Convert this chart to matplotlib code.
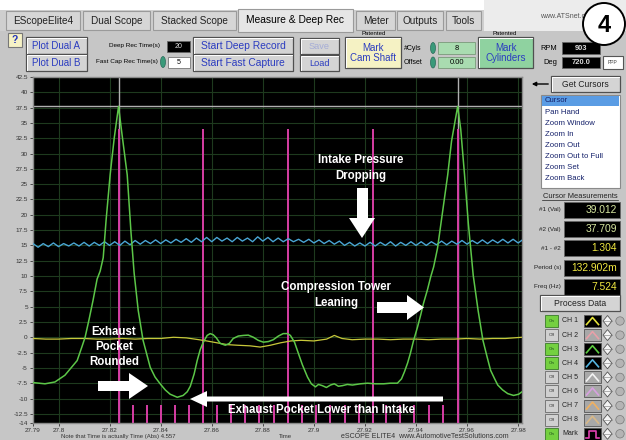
import matplotlib
matplotlib.use("Agg")
import matplotlib.pyplot as plt
from matplotlib.patches import Rectangle, Circle, Polygon, Ellipse

plt.rcParams['font.family'] = ['Liberation Sans', 'DejaVu Sans']

# ---------------- data ----------------
x_ticks = [27.79, 27.8, 27.82, 27.84, 27.86, 27.88, 27.9, 27.92, 27.94, 27.96, 27.98]
x_tick_labels = ['27.79', '27.8', '27.82', '27.84', '27.86', '27.88', '27.9', '27.92', '27.94', '27.96', '27.98']
y_ticks = [42.5, 40, 37.5, 35, 32.5, 30, 27.5, 25, 22.5, 20, 17.5, 15, 12.5, 10, 7.5, 5, 2.5, 0,
           -2.5, -5, -7.5, -10, -12.5, -14]
y_tick_labels = ['42.5', '40', '37.5', '35', '32.5', '30', '27.5', '25', '22.5', '20', '17.5', '15', '12.5',
                 '10', '7.5', '5', '2.5', '0', '-2.5', '-5', '-7.5', '-10', '-12.5', '-14']
x_range = [27.79, 27.9815]
y_range = [-14, 42.5]

# CH3 (green) cylinder pressure trace
green_t = [27.7900, 27.7947, 27.7986, 27.8025, 27.8053, 27.8073, 27.8092, 27.8104, 27.8120, 27.8135,
           27.8151, 27.8163, 27.8175, 27.8186, 27.8202, 27.8218, 27.8235, 27.8249, 27.8269, 27.8284,
           27.8296, 27.8312, 27.8331, 27.8359, 27.8378, 27.8398, 27.8418, 27.8437, 27.8465, 27.8488,
           27.8504, 27.8516, 27.8531, 27.8543, 27.8555, 27.8567, 27.8582, 27.8594, 27.8606, 27.8618,
           27.8633, 27.8653, 27.8669, 27.8684, 27.8704, 27.8724, 27.8743, 27.8763, 27.8782, 27.8802,
           27.8822, 27.8841, 27.8861, 27.8880, 27.8896, 27.8908, 27.8924, 27.8939, 27.8955, 27.8975,
           27.8990, 27.9006, 27.9018, 27.9033, 27.9049, 27.9065, 27.9080, 27.9096, 27.9112, 27.9131,
           27.9151, 27.9182, 27.9210, 27.9241, 27.9273, 27.9300, 27.9327, 27.9343, 27.9355, 27.9367,
           27.9378, 27.9390, 27.9406, 27.9418, 27.9429, 27.9445, 27.9457, 27.9469, 27.9484, 27.9504,
           27.9524, 27.9539, 27.9563, 27.9575, 27.9590, 27.9605, 27.9624, 27.9643, 27.9662, 27.9677,
           27.9692, 27.9708, 27.9720, 27.9739, 27.9759, 27.9782, 27.9802, 27.9815]
green_v = [-7.4, -7.6, -7.3, -6.2, -4.8, -3.8, -1.5, 0.0, 3.0, 6.0,
           9.5, 10.8, 13.0, 19.0, 26.5, 32.5, 37.7, 33.0, 26.5, 17.0,
           10.5, 4.4, -0.5, -4.9, -6.5, -7.6, -8.6, -9.3, -9.8, -9.5,
           -8.9, -8.0, -6.0, -3.8, -2.0, -0.8, 0.3, 0.6, 0.4, -0.1,
           -1.0, -1.3, -1.0, -0.2, 0.2, 0.3, 0.35, 0.0, -0.5, -0.8,
           -0.7, -0.4, 0.2, 0.6, 0.6, 0.3, -0.8, -2.6, -4.5, -6.5,
           -7.6, -8.1, -7.7, -7.9, -8.2, -7.8, -7.6, -8.0, -7.9, -7.7,
           -7.8, -7.6, -7.5, -7.6, -7.6, -7.5, -7.5, -6.8, -5.6, -4.2,
           -2.6, -0.6, 1.7, 3.6, 5.5, 7.8, 9.8, 11.5, 14.5, 20.5,
           26.5, 32.0, 37.7, 34.0, 26.5, 18.5, 10.1, 4.4, -0.5, -3.0,
           -5.4, -6.8, -7.8, -8.6, -9.2, -9.5, -9.3, -8.9]

# CH4 (blue) intake pressure trace
blue_t = [27.790, 27.792, 27.794, 27.796, 27.798, 27.800, 27.802, 27.804, 27.806, 27.808,
          27.810, 27.812, 27.814, 27.816, 27.818, 27.820, 27.822, 27.824, 27.826, 27.828,
          27.830, 27.832, 27.834, 27.836, 27.838, 27.840, 27.842, 27.844, 27.846, 27.848,
          27.850, 27.852, 27.854, 27.856, 27.858, 27.860, 27.862, 27.864, 27.866, 27.868,
          27.870, 27.872, 27.874, 27.876, 27.878, 27.880, 27.882, 27.884, 27.886, 27.888,
          27.890, 27.892, 27.894, 27.896, 27.898, 27.900, 27.902, 27.904, 27.906, 27.908,
          27.910, 27.912, 27.914, 27.916, 27.918, 27.920, 27.922, 27.924, 27.926, 27.928,
          27.930, 27.932, 27.934, 27.936, 27.938, 27.940, 27.942, 27.944, 27.946, 27.948,
          27.950, 27.952, 27.954, 27.956, 27.958, 27.960, 27.962, 27.964, 27.966, 27.968,
          27.970, 27.972, 27.974, 27.976, 27.978, 27.980, 27.982]
blue_v = [15.3, 14.7, 15.3, 14.8, 15.4, 14.8, 15.3, 14.9, 15.4, 14.9,
          15.5, 14.9, 15.5, 15.0, 15.6, 15.0, 15.6, 15.0, 15.7, 15.1,
          15.8, 15.2, 15.8, 15.3, 15.9, 15.3, 15.9, 15.4, 16.0, 15.5,
          16.1, 15.5, 16.2, 15.6, 16.3, 15.6, 16.3, 15.7, 16.2, 15.6,
          16.3, 15.7, 16.2, 15.6, 16.4, 15.7, 16.3, 15.6, 16.2, 15.6,
          16.1, 15.6, 16.0, 15.5, 16.0, 15.4, 15.9, 15.3, 15.8, 15.2,
          15.7, 15.0, 15.5, 14.9, 15.4, 14.9, 15.5, 14.9, 15.5, 15.0,
          15.6, 14.9, 15.5, 15.0, 15.6, 15.0, 15.6, 15.0, 15.6, 15.1,
          15.7, 15.1, 15.7, 15.2, 15.8, 15.2, 15.8, 15.3, 15.9, 15.3,
          15.9, 15.4, 16.0, 15.4, 16.0, 15.4, 16.0]

# CH1 (yellow) exhaust pressure trace
yellow_t = [27.790, 27.795, 27.800, 27.805, 27.810, 27.815, 27.820, 27.825, 27.830, 27.835,
            27.840, 27.845, 27.850, 27.855, 27.858, 27.862, 27.866, 27.870, 27.875, 27.879,
            27.883, 27.887, 27.891, 27.895, 27.900, 27.905, 27.908, 27.911, 27.915, 27.920,
            27.925, 27.930, 27.935, 27.940, 27.945, 27.950, 27.955, 27.960, 27.965, 27.970,
            27.975, 27.9815]
yellow_v = [-0.2, -0.3, -0.3, -0.2, -0.2, -0.3, -0.3, -0.2, -0.3, -0.2,
            -0.2, 0.0, -0.1, -0.4, -0.6, -0.9, -1.2, -1.3, -1.4, -1.6,
            -1.3, -0.9, -0.6, -0.5, -0.6, -0.3, 0.3, -0.2, -0.4, -0.3,
            -0.3, -0.4, -0.3, -0.3, -0.4, -0.3, -0.3, -0.2, -0.3, -0.2,
            -0.2, 0.0]

# Mark channel (magenta): cylinder marks (tall) and sub-divisions (short)
mark_major_t = [27.8235, 27.8567, 27.8899, 27.9232, 27.9564]
mark_minor_t = [27.8292, 27.8347, 27.8402, 27.8457, 27.8512,
                27.8622, 27.8676, 27.8731, 27.8786, 27.8845,
                27.8955, 27.9010, 27.9065, 27.9120, 27.9175,
                27.9284, 27.9339, 27.9394, 27.9449, 27.9504]
mark_major_top = 34.0
mark_minor_top = -11.0

# cursors
cursor_t = [27.8235, 27.9564]
cursor_level = 37.709

readout_labels = ['#1 (Val)', '#2 (Val)', '#1 - #2', 'Period (s)', 'Freq (Hz)']
readout_values = ['39.012', '37.709', '1.304', '132.902m', '7.524']
tool_items = ['Cursor', 'Pan Hand', 'Zoom Window', 'Zoom In', 'Zoom Out', 'Zoom Out to Full', 'Zoom Set', 'Zoom Back']
channel_names = ['CH 1', 'CH 2', 'CH 3', 'CH 4', 'CH 5', 'CH 6', 'CH 7', 'CH 8', 'Mark']
channel_on = [True, False, True, True, False, False, False, False, True]
channel_colors = ['#e4e23a', '#e8a0a8', '#5ccc40', '#54b4e0', '#f2f2f2', '#d8a0e0', '#f0b060', '#d8b888', '#e040b0']
tabs = ['EScopeElite4', 'Dual Scope', 'Stacked Scope', 'Measure & Deep Rec', 'Meter', 'Outputs', 'Tools']

# ---------------- figure ----------------
W, H = 626, 440
fig = plt.figure(figsize=(W / 100, H / 100), dpi=100)
fig.patch.set_facecolor('#c6c6c6')

ui = fig.add_axes([0, 0, 1, 1], zorder=0)
ui.set_xlim(0, W)
ui.set_ylim(H, 0)
ui.axis('off')


def rect(x0, y0, x1, y1, fc, ec='none', lw=0.8, z=2):
    ui.add_patch(Rectangle((x0, y0), x1 - x0, y1 - y0, facecolor=fc, edgecolor=ec, linewidth=lw, zorder=z))


def txt(x, y, s, size=7, color='black', ha='center', weight='normal', z=5, **kw):
    ui.text(x, y, s, fontsize=size, color=color, ha=ha, va='center', fontweight=weight, zorder=z, **kw)


def button(x0, y0, x1, y1, label, fc='#d4d4d4', color='#2b3cc0', size=7, ec='#505050', ls=1.0):
    rect(x0, y0, x1, y1, fc, ec, 0.9)
    ui.plot([x0 + 1.2, x0 + 1.2, x1 - 1.2], [y1 - 1.2, y0 + 1.2, y0 + 1.2], color='white', lw=0.7, zorder=3)
    txt((x0 + x1) / 2, (y0 + y1) / 2 + 0.5, label, size=size, color=color, linespacing=ls)


def spinner(x, y):
    ui.add_patch(Ellipse((x, y), 5, 11, facecolor='#3a9a7a', edgecolor='#2a6a5a', lw=0.5, zorder=4))


# top strip & tabs
rect(0, 0, W, 10, 'white', z=1)
rect(0, 10, 484, 31, '#cfcfcf', z=1)
rect(484, 0, W, 31, '#ececec', z=1)
tab_x = [(6, 80), (83, 150), (153, 236), (238, 353), (356, 395), (397, 443), (446, 481)]
for (x0, x1), name in zip(tab_x, tabs):
    if name.startswith('Measure'):
        rect(x0, 9, x1, 32, '#e6e6e6', '#9a9a9a', 0.8, z=2)
        txt((x0 + x1) / 2, 20, name, size=7.4)
    else:
        rect(x0, 11, x1, 30, '#d6d6d6', '#9a9a9a', 0.8, z=2)
        txt((x0 + x1) / 2, 21, name, size=7.2, color='#222222')
txt(567, 17, 'www.ATSnet.com', size=5, color='#555555')

# row of controls
rect(8, 33, 22, 47, '#f6f2c6', '#777777', 0.8)
txt(15, 40, '?', size=7.5, color='#2233bb', weight='bold')
button(26, 37, 87, 54, 'Plot Dual A')
button(26, 54, 87, 71, 'Plot Dual B')
txt(160, 46, 'Deep Rec Time(s)', size=4.6, ha='right')
rect(167, 41, 190, 52, 'black', '#666666', 0.6)
txt(178.5, 46.5, '20', size=5, color='#dddddd')
txt(158, 62, 'Fast Cap Rec Time(s)', size=4.6, ha='right')
spinner(163, 62)
rect(168, 57, 190, 68, 'white', '#777777', 0.6)
txt(179, 62.5, '5', size=5)
button(193, 37, 293, 54, 'Start Deep Record', size=7.4)
button(193, 54, 293, 71, 'Start Fast Capture', size=7.4)
button(300, 38, 339, 54, 'Save', color='#a4acd6', size=6.6)
button(300, 55, 339, 71, 'Load', size=6.6)
txt(374, 33.5, 'Patented', size=4.3)
button(345, 37, 401, 68, 'Mark\nCam Shaft', fc='#f5f2c4', size=7, ls=1.1)
txt(404, 48, '#Cyls', size=5.0, ha='left')
spinner(433, 48)
rect(438, 42, 475, 54, '#a9dcb0', '#7a9a7a', 0.6)
txt(456.5, 48, '8', size=5.4)
txt(404, 62.5, 'Offset', size=5.0, ha='left')
spinner(433, 62.5)
rect(438, 57, 475, 68, '#a9dcb0', '#7a9a7a', 0.6)
txt(456.5, 62.5, '0.00', size=5.4)
txt(505, 33.5, 'Patented', size=4.3)
button(478, 37, 533, 68, 'Mark\nCylinders', fc='#8fd2a0', size=7, ls=1.1)
txt(540, 48, 'RPM', size=5.4, ha='left')
rect(562, 42, 600, 54, 'black', '#666666', 0.6)
txt(581, 48, '903', size=5.4, color='#dddddd', weight='bold')
txt(543, 62.5, 'Deg', size=5.4, ha='left')
rect(562, 57, 600, 68, 'black', '#666666', 0.6)
txt(581, 62.5, '720.0', size=5.4, color='#dddddd', weight='bold')
rect(603, 56, 623, 69, 'white', '#555555', 0.8)
txt(613, 62, 'PPP', size=3.6, color='#444444')

# badge
ui.add_patch(Circle((604, 24), 21, facecolor='white', edgecolor='black', linewidth=1.4, zorder=6))
ui.text(604, 25, '4', fontsize=17, fontweight='bold', ha='center', va='center', zorder=7)

# right panel
ui.annotate('', xy=(529, 84), xytext=(551, 84),
            arrowprops=dict(arrowstyle='-|>', color='black', lw=1.0, mutation_scale=6), zorder=5)
button(551, 76, 620, 92, 'Get Cursors', color='#222222', size=6.2)
rect(541, 95, 620, 188, 'white', '#8a8a8a', 0.8)
for i, item in enumerate(tool_items):
    y = 101 + i * 11.1
    if i == 0:
        rect(542, y - 5.3, 619, y + 5.3, '#5a9ce4', z=3)
    txt(545, y, item, size=5.6, ha='left', color='#14206a')
txt(580, 196, 'Cursor Measurements', size=5.4, color='#222222')
ui.plot([542, 618], [200.5, 200.5], color='#222222', lw=0.5, zorder=5)
for i, (lab, val) in enumerate(zip(readout_labels, readout_values)):
    y = 210 + i * 19.2
    txt(561, y, lab, size=4.6, ha='right', color='#222222')
    rect(564, y - 8, 620, y + 8, 'black', '#666666', 0.6)
    col = '#d8e8a0' if i < 2 else '#f0e840'
    txt(617, y, val, size=7.4, ha='right', color=col)
button(540, 295, 620, 311, 'Process Data', color='#222222', size=6.2)
for i, (name, on, col) in enumerate(zip(channel_names, channel_on, channel_colors)):
    y = 321 + i * 14.1
    if on:
        rect(545, y - 6, 558, y + 6, '#74d040', '#3a7a2a', 0.6)
        txt(551.5, y, 'On', size=3.2, color='#1a4a1a')
    else:
        rect(545, y - 6, 558, y + 6, '#d0d0d0', '#6a6a6a', 0.6)
        txt(551.5, y, 'Off', size=3.2, color='#333333')
    txt(562, y, name, size=5.0, ha='left', color='#222222')
    bg = 'black' if on else '#a8a8a8'
    rect(584, y - 6, 601, y + 6, bg, '#555555', 0.6)
    if name == 'Mark':
        ui.plot([586, 589, 589, 596, 596, 599], [y + 4, y + 4, y - 3, y - 3, y + 4, y + 4], color=col, lw=1.2, zorder=5)
    else:
        ui.plot([586.5, 592.5, 598.5], [y + 3.5, y - 3.5, y + 3.5], color=col, lw=1.2, zorder=5)
    ui.add_patch(Polygon([(603, y), (607.5, y - 5.5), (612, y), (607.5, y + 5.5)], closed=True,
                         facecolor='#f4f4f4', edgecolor='#555555', lw=0.6, zorder=4))
    ui.plot([603, 612], [y, y], color='#777777', lw=0.4, zorder=5)
    ui.add_patch(Circle((620, y), 4.2, facecolor='#b4b4b4', edgecolor='#777777', lw=0.5, zorder=4))

# bottom captions
txt(118, 436.5, 'Note that Time is actually Time (Abs) 4.557', size=4.3, color='#333333')
txt(285, 436.5, 'Time', size=4.3, color='#333333')
txt(425, 436.5, 'eSCOPE ELITE4  www.AutomotiveTestSolutions.com', size=5.0, color='#333333')

# ---------------- scope plot ----------------
ax = fig.add_axes([33 / W, 1 - 423 / H, (522 - 33) / W, (423 - 77) / H], zorder=3)
ax.set_facecolor('black')
ax.set_xlim(*x_range)
ax.set_ylim(*y_range)
ax.set_xticks(x_ticks)
ax.set_xticklabels(x_tick_labels)
ax.set_yticks(y_ticks)
ax.set_yticklabels(y_tick_labels)
ax.tick_params(labelsize=4.6, colors='#333333', length=2.5, width=0.6, pad=1.2, direction='out')
ax.grid(True, color='#1e3a1e', lw=0.8)
ax.set_axisbelow(True)
for s in ax.spines.values():
    s.set_color('#8a8a8a')
    s.set_linewidth(1.0)

ax.vlines(mark_minor_t, y_range[0], mark_minor_top, color='#d63ea4', lw=1.4, zorder=2)
for t in cursor_t:
    ax.axvline(t, color='#b0b0b0', lw=1.0, zorder=2)
ax.axhline(cursor_level, color='#b0b0b0', lw=1.0, zorder=2)
ax.vlines(mark_major_t, y_range[0], mark_major_top, color='#d63ea4', lw=1.4, zorder=3)
ax.plot(yellow_t, yellow_v, color='#c8c83a', lw=0.9, zorder=4)
ax.plot(blue_t, blue_v, color='#4aa6d4', lw=1.0, zorder=4)
ax.plot(green_t, green_v, color='#5cc648', lw=1.1, zorder=5)

# ---------------- annotations overlay ----------------
ov = fig.add_axes([0, 0, 1, 1], zorder=6)
ov.set_xlim(0, W)
ov.set_ylim(H, 0)
ov.axis('off')
ov.patch.set_alpha(0)


def note(x, y, s):
    ov.text(x, y, s, fontsize=8.3, color='white', fontweight='bold', ha='center', va='center',
            linespacing=1.35)


def shape(pts):
    ov.add_patch(Polygon(pts, closed=True, facecolor='white', edgecolor='none'))


note(361, 168, 'Intake Pressure\nDropping')
shape([(357, 188), (368, 188), (368, 218), (375, 218), (362, 238), (349, 218), (357, 218)])
note(336, 295, 'Compression Tower\nLeaning')
shape([(377, 302), (407, 302), (407, 295), (424, 307.5), (407, 320), (407, 313), (377, 313)])
note(114, 347, 'Exhaust\nPocket\nRounded')
shape([(98, 381), (129, 381), (129, 373), (148, 386), (129, 399), (129, 391), (98, 391)])
shape([(443, 396.5), (207, 396.5), (207, 391), (190, 399), (207, 407), (207, 401.5), (443, 401.5)])
note(321, 410, 'Exhaust Pocket Lower than Intake')

fig.savefig('out.png', dpi=100, facecolor=fig.get_facecolor())
